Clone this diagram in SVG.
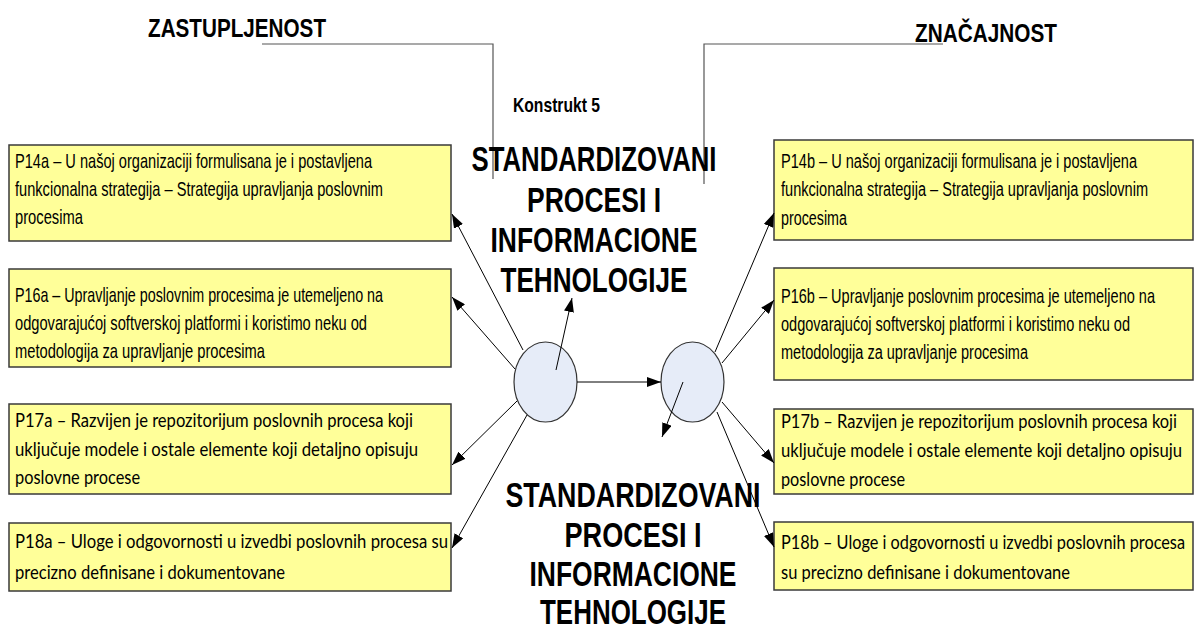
<svg xmlns="http://www.w3.org/2000/svg" width="1197" height="632" viewBox="0 0 1197 632">
  <style>
    .box { fill: #FFFF99; stroke: #3a3a3a; stroke-width: 1.5; }
    .oval { fill: #E6ECF8; stroke: #333333; stroke-width: 1.2; }
    .ln { stroke: #000000; stroke-width: 1; fill: none; }
    .brk { stroke: #555555; stroke-width: 1.2; fill: none; }
    /* narrow faces are drawn by squeezing the regular faces horizontally */
    .t { font-family: "Liberation Sans", Arial, sans-serif; font-size: 20px; fill: #000; }
    .tc { font-family: Lato, "Open Sans", "Liberation Sans", sans-serif; font-size: 19px; fill: #000; }
    .head { font-family: "Liberation Sans", Arial, sans-serif; font-weight: bold; font-size: 26px; fill: #000; }
    .title { font-family: "Liberation Sans", Arial, sans-serif; font-weight: bold; font-size: 35px; fill: #000; text-anchor: middle; }
    .sub { font-family: "Liberation Sans", Arial, sans-serif; font-weight: bold; font-size: 20px; fill: #000; }
  </style>
  <defs>
    <marker id="arrow" viewBox="0 0 14 10" refX="14" refY="5" markerWidth="14" markerHeight="10" markerUnits="userSpaceOnUse" orient="auto">
      <path d="M0,0 L14,5 L0,10 z" fill="#000"/>
    </marker>
  </defs>

  <!-- headings with bracket lines -->
  <g id="zastupljenost">
    <text class="head" transform="translate(148,37) scale(0.82,1)" textLength="217.1" lengthAdjust="spacingAndGlyphs">ZASTUPLJENOST</text>
    <polyline class="brk" points="262,44 493,44 493,179"/>
  </g>
  <g id="znacajnost">
    <text class="head" transform="translate(915,42) scale(0.82,1)" textLength="173.2" lengthAdjust="spacingAndGlyphs">ZNAČAJNOST</text>
    <polyline class="brk" points="943,44 704,44 704,184"/>
  </g>

  <!-- construct titles -->
  <g id="konstrukt">
    <text class="sub" transform="translate(513,112) scale(0.82,1)" textLength="106.1" lengthAdjust="spacingAndGlyphs">Konstrukt 5</text>
    <text class="title" transform="translate(594,171) scale(0.82,1)" textLength="298.8" lengthAdjust="spacingAndGlyphs">STANDARDIZOVANI</text>
    <text class="title" transform="translate(594,212) scale(0.82,1)" textLength="163.4" lengthAdjust="spacingAndGlyphs">PROCESI I</text>
    <text class="title" transform="translate(594,252) scale(0.82,1)" textLength="252.4" lengthAdjust="spacingAndGlyphs">INFORMACIONE</text>
    <text class="title" transform="translate(594,292) scale(0.82,1)" textLength="228" lengthAdjust="spacingAndGlyphs">TEHNOLOGIJE</text>
  </g>
  <g id="konstrukt-b">
    <text class="title" transform="translate(633,507) scale(0.82,1)" textLength="311" lengthAdjust="spacingAndGlyphs">STANDARDIZOVANI</text>
    <text class="title" transform="translate(633,547) scale(0.82,1)" textLength="167.1" lengthAdjust="spacingAndGlyphs">PROCESI I</text>
    <text class="title" transform="translate(633,586) scale(0.82,1)" textLength="252.4" lengthAdjust="spacingAndGlyphs">INFORMACIONE</text>
    <text class="title" transform="translate(633,624) scale(0.82,1)" textLength="226.8" lengthAdjust="spacingAndGlyphs">TEHNOLOGIJE</text>
  </g>

  <!-- left indicator boxes -->
  <g id="p14a">
    <rect class="box" x="9" y="145" width="442" height="96"/>
    <text class="t" transform="translate(15,168) scale(0.82,1)" textLength="435.4" lengthAdjust="spacingAndGlyphs">P14a – U našoj organizaciji formulisana je i postavljena</text>
    <text class="t" transform="translate(15,196) scale(0.82,1)" textLength="448.8" lengthAdjust="spacingAndGlyphs">funkcionalna strategija – Strategija upravljanja poslovnim</text>
    <text class="t" transform="translate(15,224) scale(0.82,1)" textLength="82.9" lengthAdjust="spacingAndGlyphs">procesima</text>
  </g>
  <g id="p16a">
    <rect class="box" x="9" y="269" width="442" height="98"/>
    <text class="t" transform="translate(15,302) scale(0.82,1)" textLength="448.8" lengthAdjust="spacingAndGlyphs">P16a – Upravljanje poslovnim procesima je utemeljeno na</text>
    <text class="t" transform="translate(15,330) scale(0.82,1)" textLength="429.3" lengthAdjust="spacingAndGlyphs">odgovarajućoj softverskoj platformi i koristimo neku od</text>
    <text class="t" transform="translate(15,358) scale(0.82,1)" textLength="304.9" lengthAdjust="spacingAndGlyphs">metodologija za upravljanje procesima</text>
  </g>
  <g id="p17a">
    <rect class="box" x="9" y="404" width="442" height="90"/>
    <text class="tc" transform="translate(15,427) scale(0.85,1)" textLength="468.2" lengthAdjust="spacingAndGlyphs">P17a – Razvijen je repozitorijum poslovnih procesa koji</text>
    <text class="tc" transform="translate(15,456) scale(0.85,1)" textLength="474.1" lengthAdjust="spacingAndGlyphs">uključuje modele i ostale elemente koji detaljno opisuju</text>
    <text class="tc" transform="translate(15,484) scale(0.85,1)" textLength="147.1" lengthAdjust="spacingAndGlyphs">poslovne procese</text>
  </g>
  <g id="p18a">
    <rect class="box" x="9" y="523" width="442" height="68"/>
    <text class="tc" transform="translate(15,548) scale(0.85,1)" textLength="509.4" lengthAdjust="spacingAndGlyphs">P18a – Uloge i odgovornosti u izvedbi poslovnih procesa su</text>
    <text class="tc" transform="translate(15,579) scale(0.85,1)" textLength="317.6" lengthAdjust="spacingAndGlyphs">precizno definisane i dokumentovane</text>
  </g>

  <!-- right indicator boxes -->
  <g id="p14b">
    <rect class="box" x="774" y="140" width="419" height="100"/>
    <text class="t" transform="translate(781,168) scale(0.8,1)" textLength="445" lengthAdjust="spacingAndGlyphs">P14b – U našoj organizaciji formulisana je i postavljena</text>
    <text class="t" transform="translate(781,196) scale(0.8,1)" textLength="458.8" lengthAdjust="spacingAndGlyphs">funkcionalna strategija – Strategija upravljanja poslovnim</text>
    <text class="t" transform="translate(781,225) scale(0.8,1)" textLength="82.5" lengthAdjust="spacingAndGlyphs">procesima</text>
  </g>
  <g id="p16b">
    <rect class="box" x="774" y="268" width="419" height="112"/>
    <text class="t" transform="translate(781,303) scale(0.75,1)" textLength="498.7" lengthAdjust="spacingAndGlyphs">P16b – Upravljanje poslovnim procesima je utemeljeno na</text>
    <text class="t" transform="translate(781,331) scale(0.8,1)" textLength="436.3" lengthAdjust="spacingAndGlyphs">odgovarajućoj softverskoj platformi i koristimo neku od</text>
    <text class="t" transform="translate(781,359) scale(0.8,1)" textLength="308.8" lengthAdjust="spacingAndGlyphs">metodologija za upravljanje procesima</text>
  </g>
  <g id="p17b">
    <rect class="box" x="774" y="409" width="419" height="85"/>
    <text class="tc" transform="translate(781,428) scale(0.85,1)" textLength="465.9" lengthAdjust="spacingAndGlyphs">P17b – Razvijen je repozitorijum poslovnih procesa koji</text>
    <text class="tc" transform="translate(781,457) scale(0.85,1)" textLength="471.8" lengthAdjust="spacingAndGlyphs">uključuje modele i ostale elemente koji detaljno opisuju</text>
    <text class="tc" transform="translate(781,486) scale(0.85,1)" textLength="145.9" lengthAdjust="spacingAndGlyphs">poslovne procese</text>
  </g>
  <g id="p18b">
    <rect class="box" x="774" y="522" width="419" height="68"/>
    <text class="tc" transform="translate(781,549) scale(0.85,1)" textLength="475.3" lengthAdjust="spacingAndGlyphs">P18b – Uloge i odgovornosti u izvedbi poslovnih procesa</text>
    <text class="tc" transform="translate(781,579) scale(0.85,1)" textLength="340" lengthAdjust="spacingAndGlyphs">su precizno definisane i dokumentovane</text>
  </g>

  <!-- latent construct ovals -->
  <g id="zastupljenost-node">
    <ellipse class="oval" cx="545.5" cy="382" rx="31.5" ry="40"/>
  </g>
  <g id="znacajnost-node">
    <ellipse class="oval" cx="692.5" cy="382" rx="31.5" ry="40"/>
  </g>

  <!-- connectors -->
  <g id="connectors">
    <line class="ln" x1="577" y1="382" x2="661" y2="382" marker-end="url(#arrow)"/>
    <line class="ln" x1="523" y1="350" x2="452" y2="214" marker-end="url(#arrow)"/>
    <line class="ln" x1="515" y1="369" x2="452" y2="297" marker-end="url(#arrow)"/>
    <line class="ln" x1="556" y1="370" x2="572" y2="298" marker-end="url(#arrow)"/>
    <line class="ln" x1="517" y1="401" x2="452" y2="465" marker-end="url(#arrow)"/>
    <line class="ln" x1="527" y1="415" x2="452" y2="548" marker-end="url(#arrow)"/>
    <line class="ln" x1="715" y1="352" x2="774" y2="213" marker-end="url(#arrow)"/>
    <line class="ln" x1="722" y1="363" x2="774" y2="300" marker-end="url(#arrow)"/>
    <line class="ln" x1="683" y1="382" x2="662" y2="437" marker-end="url(#arrow)"/>
    <line class="ln" x1="722" y1="402" x2="774" y2="463" marker-end="url(#arrow)"/>
    <line class="ln" x1="717" y1="412" x2="774" y2="547" marker-end="url(#arrow)"/>
  </g>
</svg>
